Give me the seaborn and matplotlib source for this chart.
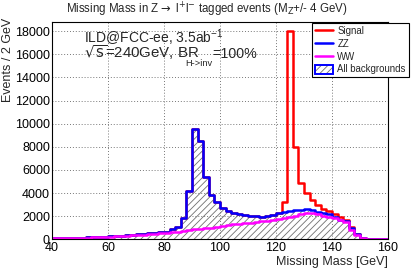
import numpy as np
import pandas as pd
import seaborn as sns
import matplotlib.pyplot as plt
from matplotlib.patches import Patch
from matplotlib.lines import Line2D
from matplotlib.legend_handler import HandlerTuple
from matplotlib.ticker import MultipleLocator

# binning: 2 GeV bins from 40 to 160 GeV
bin_width = 2
mass_lo, mass_hi = 40, 160

# total background (blue outline, hatched), events / bin
background = [100, 110, 120, 130, 140, 150, 170, 180, 200, 220,
              250, 280, 310, 340, 380, 420, 460, 510, 560, 620,
              660, 860, 1100, 1810, 4150, 9500, 8480, 5400, 3850, 3190,
              2720, 2440, 2240, 2150, 2080, 2000, 1980, 1950, 2000, 2080,
              2250, 2400, 2450, 2500, 2530, 2620, 2550, 2400, 2250, 2150,
              1950, 1700, 1550, 1000, 450, 130, 50, 40, 30, 20]
# WW background (magenta)
ww = [80, 90, 100, 110, 120, 130, 150, 160, 180, 200,
      220, 250, 280, 300, 330, 360, 400, 430, 470, 510,
      550, 600, 650, 720, 780, 850, 900, 950, 1000, 1080,
      1120, 1200, 1350, 1330, 1380, 1420, 1480, 1560, 1620, 1700,
      1780, 1880, 1960, 2050, 2150, 2280, 2250, 2150, 2050, 1920,
      1800, 1650, 1500, 820, 380, 100, 40, 30, 20, 15]
# H->inv signal, stacked on top of the background
signal = [0, 0, 0, 0, 0, 0, 0, 0, 0, 0,
          0, 0, 0, 0, 0, 0, 0, 0, 0, 0,
          0, 0, 0, 0, 0, 0, 0, 0, 0, 0,
          0, 0, 0, 0, 0, 0, 0, 0, 0, 0,
          0, 840, 15550, 5480, 2300, 1350, 840, 560, 340, 260,
          260, 250, 110, 80, 40, 0, 0, 0, 0, 0]

n_bins = len(background)
df = pd.DataFrame({"mass": mass_lo + bin_width * (np.arange(n_bins) + 0.5),
                   "bkg": background, "ww": ww, "sig": signal})
df["sig_tot"] = df["bkg"] + df["sig"]

sns.set_style("white")
plt.rcParams["font.family"] = ["Liberation Sans", "DejaVu Sans"]
plt.rcParams["mathtext.fontset"] = "custom"
plt.rcParams["mathtext.rm"] = "Liberation Sans"
plt.rcParams["mathtext.it"] = "Liberation Sans:italic"
plt.rcParams["hatch.linewidth"] = 0.6

fig = plt.figure(figsize=(4.15, 2.73), dpi=100)
ax = fig.add_axes([52 / 415, 1 - 239.3 / 273, 336 / 415, 217.3 / 273])

lw = 1.8
hatch_col = "#707070"
hist_kw = dict(x="mass", binwidth=bin_width, binrange=(mass_lo, mass_hi),
               element="step", ax=ax)
sns.histplot(data=df, weights="bkg", fill=True, color=hatch_col,
             facecolor="none", edgecolor=hatch_col, hatch="/////",
             linewidth=0, **hist_kw)
sns.histplot(data=df, weights="sig_tot", fill=False, color="#ff0000",
             linewidth=lw, **hist_kw)
sns.histplot(data=df, weights="bkg", fill=False, color="#0000ff",
             linewidth=lw, **hist_kw)
sns.histplot(data=df, weights="ww", fill=False, color="#ff00ff",
             linewidth=lw, **hist_kw)

ax.set_xlim(mass_lo, mass_hi)
ax.set_ylim(0, 18800)
ax.set_xlabel("")
ax.set_ylabel("")
ax.xaxis.set_major_locator(MultipleLocator(20))
ax.xaxis.set_minor_locator(MultipleLocator(5))
ax.yaxis.set_major_locator(MultipleLocator(2000))
ax.yaxis.set_minor_locator(MultipleLocator(400))
ax.tick_params(axis="both", which="both", direction="in", colors="black",
               labelsize=9)
ax.tick_params(axis="x", which="major", length=4.5, width=0.8, pad=2)
ax.tick_params(axis="x", which="minor", length=2.2, width=0.8)
ax.tick_params(axis="y", which="major", length=6, width=0.8, pad=1.5)
ax.tick_params(axis="y", which="minor", length=3, width=0.8)
ax.grid(True, which="major", ls=(0, (1, 2)), color="#777777", lw=0.7)
for sp in ax.spines.values():
    sp.set_color("black")
    sp.set_linewidth(0.8)

fig.text(207 / 415, 1 - 9.5 / 273,
         "Missing Mass in Z$\\rightarrow$ l$^{+}$l$^{-}$ tagged events (M$_{\\mathrm{Z}}$+/- 4 GeV)",
         fontsize=8.3, ha="center", va="center", math_fontfamily="dejavusans")
fig.text(8 / 415, 1 - 18 / 273, "Events / 2 GeV", rotation=90,
         fontsize=9, ha="center", va="top")
fig.text(388 / 415, 1 - 262 / 273, "Missing Mass [GeV]",
         fontsize=9, ha="right", va="center")

# ILD label block
fig.text(84 / 415, 1 - 37.5 / 273, "ILD@FCC-ee, 3.5ab$^{-1}$",
         fontsize=10, ha="left", va="center")
fig.text(84 / 415, 1 - 58.5 / 273, "$\\sqrt{\\mathrm{s}}$=240GeV, BR",
         fontsize=10.8, ha="left", va="baseline", math_fontfamily="dejavusans")
fig.text(185 / 415, 1 - 63.5 / 273, "H->inv",
         fontsize=6.7, ha="left", va="center")
fig.text(212 / 415, 1 - 58.5 / 273, "=100%",
         fontsize=10.3, ha="left", va="baseline")

handles = [Line2D([], [], color="#ff0000", lw=lw),
           Line2D([], [], color="#0000ff", lw=lw),
           Line2D([], [], color="#ff00ff", lw=lw),
           (Patch(facecolor="white", edgecolor=hatch_col, hatch="/////", lw=0),
            Patch(fill=False, edgecolor="#0000ff", lw=1.4))]
labels = ["Signal", "ZZ", "WW", "All backgrounds"]
leg = ax.legend(handles, labels, loc="upper left",
                bbox_to_anchor=(312 / 415, 1 - 23 / 273),
                bbox_transform=fig.transFigure, fontsize=6.9,
                frameon=True, fancybox=False, framealpha=1,
                edgecolor="black", borderaxespad=0, borderpad=0.3,
                labelspacing=0.3, handlelength=1.85, handleheight=1.0,
                handletextpad=0.5,
                handler_map={tuple: HandlerTuple(ndivide=1, pad=0)})
leg.get_frame().set_linewidth(0.8)

fig.savefig("out.png", dpi=100)
